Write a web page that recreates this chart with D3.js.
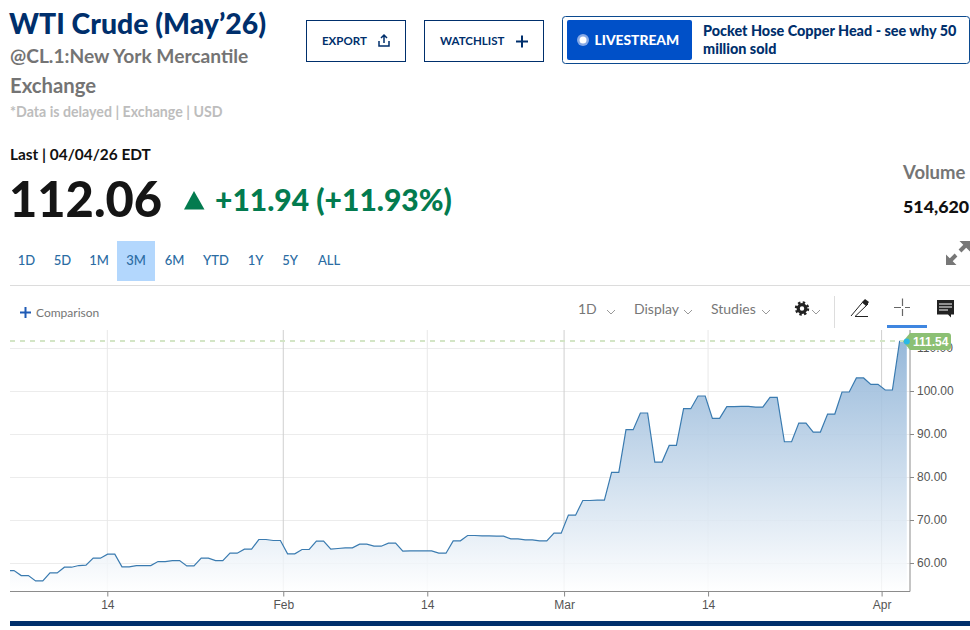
<!DOCTYPE html>
<html>
<head>
<meta charset="utf-8">
<script src="https://cdn.jsdelivr.net/npm/d3@7"></script>
<style>
html, body { margin: 0; padding: 0; background: #fff; }
svg { display: block; }
text { font-family: Lato, "Open Sans", sans-serif; }
.axis text { font-family: "Liberation Sans", Arial, sans-serif; }
</style>
</head>
<body>
<div id="chart"></div>
<script>
// one value per chart vertex
const prices = [
	58.25, 58.25, 57.08, 57.08, 55.84, 55.84, 57.70, 57.70, 59.02, 59.02,
	59.41, 59.49, 61.12, 61.12, 62.05, 62.05, 59.10, 59.10, 59.41, 59.41,
	59.41, 60.34, 60.34, 60.57, 60.57, 59.33, 59.33, 61.12, 61.12, 60.57,
	60.57, 62.28, 62.28, 63.21, 63.21, 65.46, 65.46, 65.23, 65.23, 62.13,
	62.13, 63.14, 63.14, 65.08, 65.08, 63.21, 63.37, 63.52, 63.52, 64.38,
	64.38, 63.91, 63.91, 64.61, 64.61, 62.75, 62.82, 62.82, 62.82, 62.82,
	62.28, 62.28, 65.15, 65.15, 66.39, 66.39, 66.32, 66.32, 66.24, 66.24,
	65.62, 65.62, 65.38, 65.38, 65.15, 65.15, 66.94, 66.94, 71.13, 71.13,
	74.54, 74.54, 74.62, 74.62, 81.06, 81.06, 91.00, 91.00, 94.88, 94.88,
	83.47, 83.47, 87.35, 87.35, 95.89, 95.89, 98.84, 98.84, 93.64, 93.64,
	96.35, 96.35, 96.43, 96.43, 96.27, 96.27, 98.53, 98.53, 88.20, 88.20,
	92.55, 92.55, 90.45, 90.45, 94.64, 94.64, 99.77, 99.77, 103.03, 103.03,
	101.55, 101.55, 100.23, 100.23, 111.54, 111.54
];
const xTickLabels = ['14', 'Feb', '14', 'Mar', '14', 'Apr'];
const xTickIndex = [13.96, 38.4, 58.4, 77.4, 97.4, 121.5];
const yTicks = [60, 70, 80, 90, 100, 110];
const ranges = ['1D', '5D', '1M', '3M', '6M', 'YTD', '1Y', '5Y', 'ALL'];
const lastPrice = 111.54;

const width = 970;
const height = 630;
const navy = '#002f6c';
const linkBlue = '#2b6ca3';

const svg = d3.select('#chart').append('svg')
	.attr('width', width)
	.attr('height', height);

const addText = (x, y, str, size, weight, color, anchor) => svg.append('text')
	.attr('x', x)
	.attr('y', y)
	.attr('font-size', size)
	.attr('font-weight', weight)
	.attr('fill', color)
	.attr('text-anchor', anchor || 'start')
	.text(str);

// Header
addText(9, 34, 'WTI Crude (May\u201926)', 28.4, 900, navy);
addText(10, 63, '@CL.1:New York Mercantile', 19.2, 700, '#747474');
addText(10, 93, 'Exchange', 20.3, 700, '#747474');
addText(10, 117, '*Data is delayed | Exchange | USD', 14.2, 700, '#bdbdbd');
addText(10, 160, 'Last | 04/04/26 EDT', 15.4, 700, '#111');
addText(9, 217, '112.06', 48.8, 900, '#151515');
svg.append('path').attr('d', 'M184 209.5L194 191L204.5 209.5Z').attr('fill', '#037b4f');
addText(215, 211, '+11.94 (+11.93%)', 30, 900, '#037b4f');
addText(903, 179, 'Volume', 18.5, 700, '#757575');
addText(903, 213, '514,620', 17.8, 900, '#111');

// Buttons
const button = (x, w, label, tx) => {
	svg.append('rect').attr('x', x + 0.5).attr('y', 20.5).attr('width', w).attr('height', 41)
		.attr('fill', 'none').attr('stroke', navy).attr('stroke-width', 1);
	addText(tx, 45, label, 11.5, 700, navy);
};
button(306, 99, 'EXPORT', 322);
svg.append('path')
	.attr('d', 'M379 41V46H389V41M384 43V35.5M381 38L384 35L387 38')
	.attr('fill', 'none').attr('stroke', navy).attr('stroke-width', 1.5);
button(424, 119, 'WATCHLIST', 440);
svg.append('path').attr('d', 'M516 41.5H528M522 35.5V47.5')
	.attr('fill', 'none').attr('stroke', navy).attr('stroke-width', 2);

// Livestream banner
svg.append('rect').attr('x', 562.5).attr('y', 16.5).attr('width', 407).attr('height', 47).attr('rx', 3)
	.attr('fill', '#fff').attr('stroke', '#0b4a8f').attr('stroke-width', 1);
svg.append('rect').attr('x', 567).attr('y', 20).attr('width', 125).attr('height', 40).attr('rx', 2)
	.attr('fill', '#0050c8');
svg.append('circle').attr('cx', 583).attr('cy', 40).attr('r', 6).attr('fill', '#86a9e6');
svg.append('circle').attr('cx', 583).attr('cy', 40).attr('r', 3.5).attr('fill', '#fff');
addText(594.5, 45, 'LIVESTREAM', 13.8, 900, '#fff');
addText(703, 36, 'Pocket Hose Copper Head - see why 50', 14.4, 900, navy);
addText(703, 54, 'million sold', 14.4, 900, navy);

// Range selector
const rangeX = [26.5, 62.5, 99, 136, 174.5, 216, 255.5, 290, 329];
svg.append('rect').attr('x', 117).attr('y', 241).attr('width', 38).attr('height', 40).attr('fill', '#b3d7fd');
ranges.forEach((r, i) => addText(rangeX[i], 265, r, 13, 500, linkBlue, 'middle'));
svg.append('line').attr('x1', 10).attr('x2', 970).attr('y1', 285.5).attr('y2', 285.5)
	.attr('stroke', '#dcdcdc');

// Expand icon
svg.append('path')
	.attr('d', 'M946 265V254.5L956.5 265ZM970 241H959.5L970 251.5Z')
	.attr('fill', '#777');
svg.append('path')
	.attr('d', 'M949.5 261.5L956 255M960 251L966.5 244.5')
	.attr('stroke', '#777').attr('stroke-width', 4);

// Chart toolbar
svg.append('path').attr('d', 'M20 312.5H31M25.5 307V318').attr('stroke', '#1f5bb5').attr('stroke-width', 2);
addText(36, 317, 'Comparison', 12, 400, '#757575');
const chevron = (x, y) => svg.append('path')
	.attr('d', `M${x} ${y}L${x + 4} ${y + 4}L${x + 8} ${y}`)
	.attr('fill', 'none').attr('stroke', '#999').attr('stroke-width', 1);
addText(578, 314, '1D', 14, 400, '#777');
chevron(607, 310);
addText(634, 314, 'Display', 14, 400, '#777');
chevron(684, 310);
addText(711, 314, 'Studies', 14, 400, '#777');
chevron(762, 310);
// gear icon
svg.append('circle').attr('cx', 802).attr('cy', 308.5).attr('r', 3.8)
	.attr('fill', '#fff').attr('stroke', '#222').attr('stroke-width', 3.2);
svg.append('circle').attr('cx', 802).attr('cy', 308.5).attr('r', 6)
	.attr('fill', 'none').attr('stroke', '#222').attr('stroke-width', 2.4)
	.attr('stroke-dasharray', '2.4,2.31');
chevron(812, 310);
svg.append('line').attr('x1', 834.5).attr('x2', 834.5).attr('y1', 296).attr('y2', 328).attr('stroke', '#ddd');
svg.append('path').attr('d', 'M851 316L864 300.5L868 304L855 316.5H868')
	.attr('fill', 'none').attr('stroke', '#222').attr('stroke-width', 1);
svg.append('path').attr('d', 'M862 302.5L865 299L869 302L866 306Z').attr('fill', '#222');
svg.append('path').attr('d', 'M894 307.5H901M905 307.5H910M902.5 298.5V306M902.5 309V316')
	.attr('fill', 'none').attr('stroke', '#666').attr('stroke-width', 1.2);
svg.append('rect').attr('x', 887).attr('y', 325).attr('width', 40).attr('height', 3).attr('fill', '#3f86e0');
svg.append('path').attr('d', 'M937 300H954V314.5H951V317.5L948 314.5H937Z').attr('fill', '#222');
svg.append('path').attr('d', 'M939 304H952M939 307H952M939 310H948')
	.attr('stroke', '#fff').attr('stroke-width', 1);

// Scales
const plotLeft = 10;
const plotRight = 910;
const plotTop = 330;
const plotBottom = 591.5;

const x = d3.scaleLinear().domain([0, prices.length - 1]).range([6.8, 906.8]);
const y = d3.scaleLinear().domain([60, 110]).range([563, 348]);

const defs = svg.append('defs');
defs.append('clipPath').attr('id', 'plot-clip').append('rect')
	.attr('x', plotLeft).attr('y', plotTop)
	.attr('width', plotRight - plotLeft).attr('height', plotBottom - plotTop);
const gradient = defs.append('linearGradient').attr('id', 'area-fill')
	.attr('gradientUnits', 'userSpaceOnUse')
	.attr('x1', 0).attr('x2', 0).attr('y1', y(lastPrice)).attr('y2', plotBottom);
gradient.append('stop').attr('offset', 0).attr('stop-color', '#5f93c6').attr('stop-opacity', 0.65);
gradient.append('stop').attr('offset', 1).attr('stop-color', '#5f93c6').attr('stop-opacity', 0);

// Grid
svg.append('g').selectAll('line').data(yTicks).join('line')
	.attr('x1', plotLeft).attr('x2', plotRight)
	.attr('y1', d => Math.round(y(d)) + 0.5).attr('y2', d => Math.round(y(d)) + 0.5)
	.attr('stroke', '#ececec');
svg.append('g').selectAll('line').data(xTickIndex).join('line')
	.attr('x1', d => x(d)).attr('x2', d => x(d))
	.attr('y1', plotTop).attr('y2', plotBottom)
	.attr('stroke', (d, i) => (xTickLabels[i] === '14' ? '#e8e8e8' : '#cfcfcf'));

// Area and line
const plot = svg.append('g').attr('clip-path', 'url(#plot-clip)');
const areaPath = d3.area().x((d, i) => x(i)).y0(plotBottom).y1(d => y(d));
// white veil: the grid only just shows through the area
plot.append('path').datum(prices)
	.attr('fill', '#fff').attr('fill-opacity', 0.8)
	.attr('d', areaPath);
plot.append('path').datum(prices)
	.attr('fill', 'url(#area-fill)')
	.attr('d', areaPath);
plot.append('path').datum(prices)
	.attr('fill', 'none')
	.attr('stroke', '#3a7bb0')
	.attr('stroke-width', 1.2)
	.attr('d', d3.line().x((d, i) => x(i)).y(d => y(d)));

// Last price line
svg.append('line')
	.attr('x1', plotLeft).attr('x2', 906)
	.attr('y1', 341).attr('y2', 341)
	.attr('stroke', '#d3e5c6').attr('stroke-width', 2).attr('stroke-dasharray', '5,5');

// Axes
const yAxis = d3.axisRight(y).tickValues(yTicks).tickFormat(d3.format('.2f')).tickSize(4).tickPadding(3);
const yG = svg.append('g').attr('class', 'axis')
	.attr('transform', `translate(${plotRight},0)`).call(yAxis);
const xAxis = d3.axisBottom(x).tickValues(xTickIndex)
	.tickFormat((d, i) => xTickLabels[i]).tickSize(5).tickPadding(4);
const xG = svg.append('g').attr('class', 'axis')
	.attr('transform', `translate(0,${plotBottom})`).call(xAxis);
[yG, xG].forEach(g => {
	g.selectAll('.domain').remove();
	g.selectAll('line').attr('stroke', '#888');
	g.selectAll('text').attr('fill', '#555').attr('font-size', 12);
});
svg.append('path')
	.attr('d', `M${plotLeft} ${plotBottom}H${plotRight}V${plotTop}`)
	.attr('fill', 'none').attr('stroke', '#8c8c8c');

// Last price tag
const tagY = y(lastPrice);
svg.append('path')
	.attr('d', `M903 ${tagY}L910 ${tagY - 8.5}H948Q951 ${tagY - 8.5} 951 ${tagY - 5.5}V${tagY + 5.5}Q951 ${tagY + 8.5} 948 ${tagY + 8.5}H910Z`)
	.attr('fill', '#8cc074');
svg.append('circle').attr('cx', x(prices.length - 1)).attr('cy', tagY).attr('r', 3).attr('fill', '#2bb8e6');
svg.append('text').attr('class', 'tag')
	.attr('x', 913).attr('y', tagY + 4.5)
	.attr('font-size', 12).attr('font-weight', 700).attr('fill', '#fff')
	.style('font-family', '"Liberation Sans", Arial, sans-serif')
	.text(d3.format('.2f')(lastPrice));

// Bottom bar
svg.append('rect').attr('x', 10).attr('y', 621).attr('width', 960).attr('height', 5).attr('fill', navy);
</script>
</body>
</html>
